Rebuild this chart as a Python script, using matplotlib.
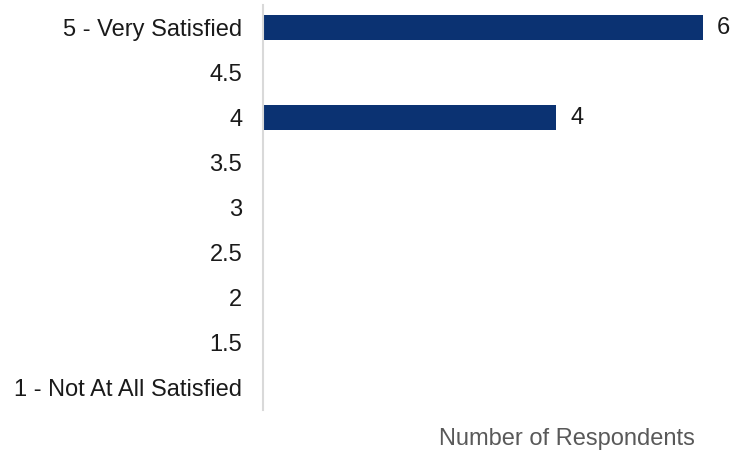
import matplotlib
matplotlib.use("Agg")
import matplotlib.pyplot as plt

# satisfaction scale, top to bottom
LEVELS = ["5 - Very Satisfied", "4.5", "4", "3.5", "3", "2.5", "2", "1.5",
          "1 - Not At All Satisfied"]
COUNTS = [6, 0, 4, 0, 0, 0, 0, 0, 0]

plt.rcParams["font.family"] = ["Liberation Sans", "DejaVu Sans"]
FS = 17

fig = plt.figure(figsize=(7.32, 4.53), dpi=100)
ax = fig.add_axes([263 / 732, 1 - 410 / 453, 1 - 263 / 732, 405 / 453])

y = list(range(len(LEVELS)))
ax.barh(y, COUNTS, height=0.56, color="#0b3272")
for yi, c in zip(y, COUNTS):
    if c:
        ax.text(c + 0.19, yi, str(c), va="center", ha="left", fontsize=FS, color="#1a1a1a")

ax.set_ylim(len(LEVELS) - 0.5, -0.5)
ax.set_xlim(0, (732 - 263) / 73.3)
ax.set_yticks(y)
ax.set_yticklabels(LEVELS, fontsize=FS, color="#1a1a1a")
ax.tick_params(axis="y", length=0, pad=15)
ax.set_xticks([])
for s in ["top", "right", "bottom"]:
    ax.spines[s].set_visible(False)
ax.spines["left"].set_color("#d9d9d9")
ax.spines["left"].set_linewidth(1.5)

fig.text(567 / 732, 1 - 439 / 453, "Number of Respondents", ha="center", va="center",
         fontsize=FS, color="#595959")

fig.savefig("out.png", dpi=100)
